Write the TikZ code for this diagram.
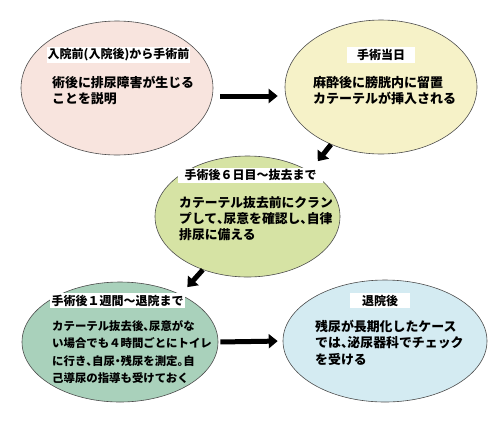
\documentclass[tikz,border=0pt]{standalone}
\usepackage{fontspec}
\usepackage{xcolor}
\usepackage{tikz}
\usetikzlibrary{shapes, arrows.meta, positioning}
\setmainfont{Noto Sans CJK JP}
\newfontfamily\halffont{Noto Sans CJK JP}[RawFeature=+halt]
\newcommand{\jtou}{{\halffont\bfseries 、}}
\newcommand{\jmaru}{{\halffont\bfseries 。}}
\newcommand{\jnaka}{{\halffont\bfseries ・}}

\definecolor{prepink}{HTML}{F8E4DE}
\definecolor{dayyellow}{HTML}{F6F2C8}
\definecolor{clampgreen}{HTML}{D6E3A4}
\definecolor{wardteal}{HTML}{A9D1BB}
\definecolor{homeblue}{HTML}{D4EBF2}

\begin{document}
\begin{tikzpicture}[x=1pt, y=-1pt, font=\bfseries]
        \tikzset{
            stage/.style={ellipse, draw=black!70, line width=0.6pt, inner sep=0pt},
            heading/.style={rectangle, fill=white, inner sep=0pt, minimum height=16pt, font=\bfseries\fontsize{12}{14}\selectfont},
            body/.style={anchor=north west, align=left, inner sep=0pt, font=\bfseries\fontsize{12.9}{15.5}\selectfont},
            flow/.style={-{Triangle[length=9pt, width=14pt]}, line width=5pt}
        }
        \useasboundingbox (0,0) rectangle (500,424);

        % stages
        \node[stage, fill=prepink, minimum width=192pt, minimum height=134pt] (pre) at (117,88) {};
        \node[stage, fill=dayyellow, minimum width=192pt, minimum height=134pt] (day0) at (381,87) {};
        \node[stage, fill=clampgreen, minimum width=185pt, minimum height=121pt] (clamp) at (247.5,216.5) {};
        \node[stage, fill=wardteal, minimum width=196pt, minimum height=120pt] (ward) at (120,342) {};
        \node[stage, fill=homeblue, minimum width=204pt, minimum height=122pt] (home) at (385,341) {};

        % headings
        \node[heading, minimum width=143pt] (preh) at (118.5,55) {入院前(入院後)から手術前};
        \node[heading, minimum width=68pt] (dayh) at (381,55) {手術当日};
        \node[heading, minimum width=145pt, minimum height=15pt] (clamph) at (250.5,175) {手術後６日目〜抜去まで};
        \node[heading, minimum width=135pt, minimum height=15pt] (wardh) at (117.5,300.5) {手術後１週間〜退院まで};
        \node[heading, minimum width=60pt, minimum height=15pt] (homeh) at (380,300.5) {退院後};

        % texts
        \node[body] (pret) at (52,76) {術後に排尿障害が生じる\\ことを説明};
        \node[body, font=\bfseries\fontsize{13}{16}\selectfont] (dayt) at (313,76.5) {麻酔後に膀胱内に留置\\カテーテルが挿入される};
        \node[body, font=\bfseries\fontsize{12.8}{16}\selectfont] (clampt) at (179,196.5) {カテーテル抜去前にクラン\\プして\jtou 尿意を確認し\jtou 自律\\排尿に備える};
        \node[body, font=\bfseries\fontsize{11.4}{17.2}\selectfont] (wardt) at (52,320.5) {カテーテル抜去後\jtou 尿意がな\\い場合でも４時間ごとにトイレ\\に行き\jtou 自尿\jnaka 残尿を測定\jmaru 自\\己導尿の指導も受けておく};
        \node[body, font=\bfseries\fontsize{12.9}{16.5}\selectfont] (homet) at (315,319.5) {残尿が長期化したケース\\では\jtou 泌尿器科でチェック\\を受ける};

        \draw[flow, shorten <=7pt, shorten >=7pt] ([yshift=-8pt]pre.east) -- ([yshift=-9pt]day0.west);
        \draw[flow, shorten >=13pt] (day0.229) -- (clamp.36);
        \draw[flow, shorten >=10pt] (clamp.230) -- (ward.38);
        \draw[flow, shorten <=2pt, shorten >=5pt] (ward.east) -- (home.west);

    \end{tikzpicture}
\end{document}
